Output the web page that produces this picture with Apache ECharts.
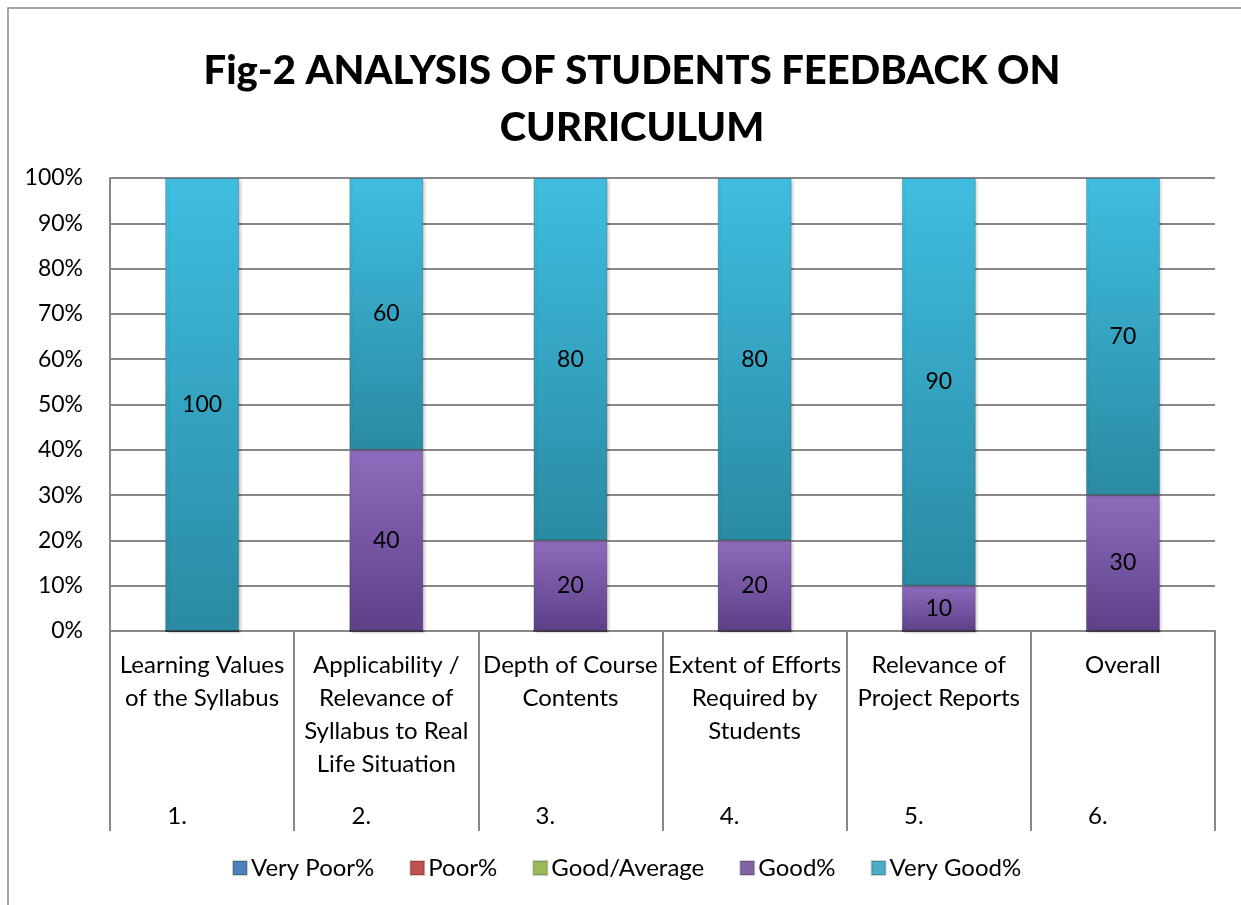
<!DOCTYPE html>
<html>
<head>
<meta charset="utf-8">
<script src="https://cdn.jsdelivr.net/npm/echarts@6/dist/echarts.min.js"></script>
<style>html,body{margin:0;padding:0;background:#fff}#c{width:1241px;height:905px}</style>
</head>
<body>
<div id="c"></div>
<script>
var categories = ["Learning Values\nof the Syllabus", "Applicability /\nRelevance of\nSyllabus to Real\nLife Situation", "Depth of Course\nContents", "Extent of Efforts\nRequired by\nStudents", "Relevance of\nProject Reports", "Overall"];
var numbers = ["1.", "2.", "3.", "4.", "5.", "6."];
var yTicks = ["0%","10%","20%","30%","40%","50%","60%","70%","80%","90%","100%"];
var veryPoor = [0, 0, 0, 0, 0, 0];
var poor = [0, 0, 0, 0, 0, 0];
var goodAverage = [0, 0, 0, 0, 0, 0];
var good = [0, 40, 20, 20, 10, 30];
var veryGood = [100, 60, 80, 80, 90, 70];
var seriesNames = ["Very Poor%", "Poor%", "Good/Average", "Good%", "Very Good%"];

var FONT = "Lato";
function grad(top, bottom) {
  return new echarts.graphic.LinearGradient(0, 0, 0, 1, [
    {offset: 0, color: top}, {offset: 1, color: bottom}
  ]);
}
var colors = [
  {legend: '#4f81bd', fill: grad('#5a8fcf', '#3a6aa3')},
  {legend: '#c0504d', fill: grad('#d35e5a', '#a03d3a')},
  {legend: '#9bbb59', fill: grad('#abcb66', '#7f9d43')},
  {legend: '#8064a2', fill: grad('#8e6cbd', '#5d4088')},
  {legend: '#4bacc6', fill: grad('#3fbde0', '#2a8aa2')}
];
var datas = [veryPoor, poor, goodAverage, good, veryGood];

var series = datas.map(function (d, i) {
  return {
    name: seriesNames[i],
    type: 'bar',
    stack: 'total',
    barWidth: 74,
    data: d,
    itemStyle: {color: colors[i].fill, borderColor: 'rgba(0,0,0,0.18)', borderWidth: 1,
      shadowColor: 'rgba(0,0,0,0.25)', shadowBlur: 3, shadowOffsetX: 2, shadowOffsetY: 1},
    label: {
      show: true,
      position: 'inside',
      color: '#000',
      fontFamily: FONT,
      fontSize: 23,
      formatter: function (p) { return p.value ? String(p.value) : ''; }
    }
  };
});

var chart = echarts.init(document.getElementById('c'), null, {renderer: 'canvas'});
chart.setOption({
  animation: false,
  color: colors.map(function (c) { return c.legend; }),
  title: {
    text: 'Fig-2 ANALYSIS OF STUDENTS FEEDBACK ON\nCURRICULUM',
    left: 627,
    textAlign: 'center',
    top: 38,
    textStyle: {fontFamily: FONT, fontWeight: 900, fontSize: 40, lineHeight: 57, color: '#000'}
  },
  graphic: [{
    type: 'rect',
    shape: {x: 8, y: 8, width: 1260, height: 920},
    style: {fill: 'none', stroke: '#898989', lineWidth: 1.5},
    silent: true
  }],
  legend: {
    bottom: 20,
    left: 227,
    itemWidth: 14,
    itemHeight: 14,
    itemGap: 35,
    icon: 'rect',
    textStyle: {fontFamily: FONT, fontSize: 24, color: '#000', padding: [0, 0, 0, -1]},
    data: seriesNames.map(function (n, i) { return {name: n, itemStyle: {color: colors[i].legend}}; })
  },
  grid: {left: 110, right: 26, top: 178, bottom: 274},
  xAxis: [{
    type: 'category',
    data: categories,
    position: 'bottom',
    axisLine: {show: true, lineStyle: {color: '#888', width: 2}},
    axisTick: {show: true, interval: 0, length: 200, lineStyle: {color: '#888', width: 2}},
    axisLabel: {interval: 0, margin: 18, fontFamily: FONT, fontSize: 24, lineHeight: 33, color: '#000'}
  }, {
    type: 'category',
    data: numbers,
    position: 'bottom',
    offset: 167,
    axisLine: {show: false},
    axisTick: {show: false},
    axisLabel: {interval: 0, margin: 6, fontFamily: FONT, fontSize: 24, color: '#000', padding: [0, 50, 0, 0]}
  }],
  yAxis: {
    type: 'value',
    min: 0,
    max: 100,
    interval: 10,
    axisLine: {show: true, lineStyle: {color: '#888', width: 2}},
    axisTick: {show: false},
    splitLine: {show: true, lineStyle: {color: '#888', width: 2}},
    axisLabel: {
      margin: 27,
      fontFamily: FONT,
      fontSize: 23,
      color: '#000',
      formatter: function (v) { return yTicks[Math.round(v / 10)]; }
    }
  },
  series: series
});
</script>
</body>
</html>
